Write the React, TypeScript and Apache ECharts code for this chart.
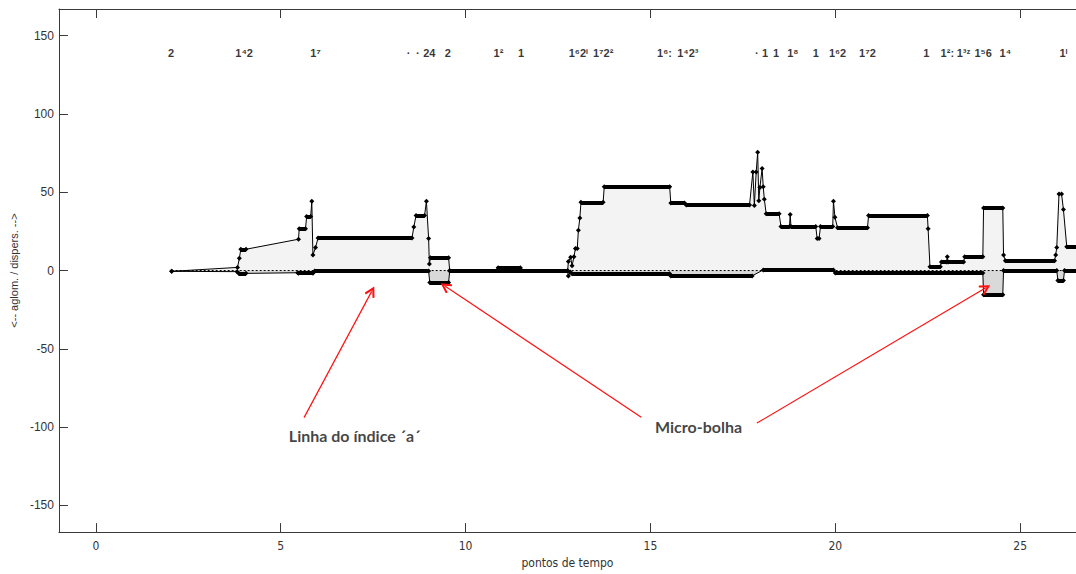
import React, { useEffect, useRef } from "react";
import * as echarts from "echarts";

// upper curve (dispersion side): [time point, value]
const upperCurve: [number, number][] = [
  [2.05, -0.5], [3.83, 2.0], [3.88, 7.8], [3.92, 13.6], [4.06, 13.6], [5.48, 20.0],
  [5.50, 26.7], [5.67, 26.7], [5.70, 34.5], [5.81, 34.5], [5.84, 44.2], [5.87, 9.9],
  [5.94, 14.7], [6.01, 20.8], [8.55, 20.8], [8.60, 27.8], [8.66, 35.2], [8.89, 35.2],
  [8.94, 44.2], [9.00, 20.4], [9.02, 4.2], [9.05, 8.2], [9.54, 8.2], [9.57, 0],
  [10.85, 0], [10.88, 1.8], [11.48, 1.8], [11.52, 0], [12.76, 0],
  [12.78, 5.7], [12.84, 8.5], [12.88, 3.0], [12.93, 8.8], [12.97, 14.0], [13.02, 14.0],
  [13.05, 25.7], [13.09, 33.6], [13.12, 43.6], [13.72, 43.6], [13.75, 53.5], [15.52, 53.5],
  [15.55, 43.1], [15.92, 43.1], [15.97, 41.9], [17.68, 41.9], [17.77, 62.9], [17.81, 41.5],
  [17.86, 63.0], [17.90, 75.6], [17.93, 44.6], [17.96, 53.0], [18.02, 65.2], [18.05, 53.5],
  [18.08, 45.6], [18.13, 36.2], [18.48, 36.2], [18.53, 28.2], [18.76, 28.2], [18.78, 35.8],
  [18.80, 28.2], [19.47, 28.2], [19.51, 20.4], [19.56, 20.4], [19.60, 28.2], [19.93, 28.2],
  [19.95, 44.2], [19.99, 34.0], [20.06, 27.3], [20.87, 27.3], [20.90, 35.2], [22.49, 35.2],
  [22.51, 26.7], [22.56, 2.5], [22.84, 2.5], [22.87, 5.5], [23.01, 5.5], [23.03, 8.8],
  [23.05, 5.5], [23.47, 5.5], [23.50, 8.8], [23.99, 8.8], [24.01, 40.0], [24.53, 40.0],
  [24.55, 9.9], [24.60, 6.3], [25.93, 6.3], [25.96, 9.9], [25.99, 14.7], [26.05, 48.8],
  [26.12, 48.8], [26.17, 39.0], [26.26, 15.2], [26.60, 15.2],
];

// lower curve (agglomeration side)
const lowerCurve: [number, number][] = [
  [2.05, -0.5], [3.82, -0.7], [3.86, -1.8], [4.06, -1.8], [5.46, -1.4], [5.48, -1.7],
  [5.87, -1.7], [5.92, -0.3], [9.00, -0.3], [9.03, -7.6], [9.54, -7.6], [9.57, -0.3],
  [12.76, -0.3], [12.78, -3.4], [12.83, -1.0], [12.88, -2.1], [15.52, -2.1], [15.55, -3.4],
  [17.75, -3.4], [18.05, 0.4], [19.95, 0.4], [20.00, -1.5], [23.99, -1.5], [24.01, -15.4],
  [24.53, -15.4], [24.55, 0], [25.99, 0], [26.02, -6.3], [26.17, -6.3], [26.20, 0],
  [26.60, 0],
];

// 'a' index line
const indexLine: [number, number][] = [[2.05, 0], [26.6, 0]];

const xTicks = [0, 5, 10, 15, 20, 25];
const yTicks = [-150, -100, -50, 0, 50, 100, 150];

// cluster labels along the top
const clusterLabelX = [
  2.03, 4.01, 5.94, 8.46, 8.71, 9.02, 9.52, 10.89, 11.5, 13.05, 13.72, 15.38, 16.01,
  17.88, 18.1, 18.4, 18.85, 19.47, 20.06, 20.87, 22.46, 23.03, 23.47, 24.0, 24.6, 26.17,
];
const clusterLabelText = [
  "2", "1⁴2", "1⁷", "·", "·", "24", "2", "1²", "1", "1⁶2ⁱ", "1⁷2²", "1⁶:", "1⁴2³",
  "·", "1", "1", "1⁸", "1", "1⁶2", "1⁷2", "1", "1²:", "1³ᶻ", "1⁵6", "1⁴", "1ᴵ",
];
const clusterLabelY = 139;

// annotations
const noteTexts = ["Linha do índice ´a´", "Micro-bolha"];
const notePos: [number, number][] = [[7.0, -105.4], [16.3, -99.7]];
const arrowFrom: [number, number][] = [[5.63, -93.9], [14.75, -93.6], [17.88, -97.4]];
const arrowTo: [number, number][] = [[7.46, -13.3], [9.45, -10.1], [24.06, -11.2]];

function plateaus(curve: [number, number][]) {
  const out: { coords: [number, number][] }[] = [];
  for (let i = 0; i < curve.length - 1; i++) {
    const a = curve[i];
    const b = curve[i + 1];
    if (a[1] === b[1] && b[0] - a[0] >= 0.08) out.push({ coords: [a, b] });
  }
  return out;
}

const axisColor = "#3a3a3a";
const sansFont = "'Liberation Sans', Arial, sans-serif";
const narrowFont = "'Liberation Sans Narrow', 'DejaVu Sans Condensed', sans-serif";
const chevron = "path://M5,0 L10,8.4 L8.5,9.4 L5,3.6 L1.5,9.4 L0,8.4 Z";

export default function App() {
  const ref = useRef<HTMLDivElement>(null);
  useEffect(() => {
    if (!ref.current) return;
    const chart = echarts.init(ref.current, undefined, { renderer: "svg" });
    const xCommon = {
      type: "value",
      min: -1,
      max: 26.51,
      splitLine: { show: false },
      axisLine: { show: true, onZero: false, lineStyle: { color: axisColor, width: 1 } },
      axisTick: { show: true, inside: true, length: 9, customValues: xTicks, lineStyle: { color: axisColor } },
    };
    chart.setOption({
      animation: false,
      backgroundColor: "#ffffff",
      grid: { left: 56, right: 0, top: 9, bottom: 36 },
      xAxis: [
        {
          ...xCommon,
          position: "bottom",
          axisLabel: {
            customValues: xTicks,
            margin: 8,
            fontFamily: narrowFont,
            fontSize: 12,
            color: "#333",
          },
          name: "pontos de tempo",
          nameLocation: "middle",
          nameGap: 24,
          nameTextStyle: { fontFamily: narrowFont, fontSize: 12, color: "#333" },
        },
        { ...xCommon, position: "top", axisLabel: { show: false } },
      ],
      yAxis: {
        type: "value",
        min: -167,
        max: 167,
        splitLine: { show: false },
        axisLine: { show: true, onZero: false, lineStyle: { color: axisColor, width: 1 } },
        axisTick: { show: true, inside: true, length: 9, customValues: yTicks, lineStyle: { color: axisColor } },
        axisLabel: {
          customValues: yTicks,
          margin: 5,
          fontFamily: sansFont,
          fontSize: 12,
          color: "#333",
        },
        name: "<-- aglom. / dispers. -->",
        nameLocation: "middle",
        nameRotate: 90,
        nameGap: 35,
        nameTextStyle: { fontFamily: sansFont, fontSize: 11, color: "#333" },
      },
      series: [
        {
          type: "line",
          data: upperCurve,
          symbol: "diamond",
          symbolSize: 5,
          showSymbol: true,
          showAllSymbol: true,
          lineStyle: { color: "#000", width: 1 },
          itemStyle: { color: "#000" },
          areaStyle: { color: "#f3f3f3", opacity: 1 },
          z: 2,
        },
        {
          type: "line",
          data: lowerCurve,
          symbol: "diamond",
          symbolSize: 5,
          showSymbol: true,
          showAllSymbol: true,
          lineStyle: { color: "#000", width: 1 },
          itemStyle: { color: "#000" },
          areaStyle: { color: "#d9d9d9", opacity: 1 },
          z: 2,
        },
        {
          type: "line",
          data: indexLine,
          symbol: "none",
          lineStyle: { color: "#000", width: 1, type: [2, 2] },
          z: 3,
        },
        {
          type: "lines",
          coordinateSystem: "cartesian2d",
          data: plateaus(upperCurve).concat(plateaus(lowerCurve)),
          lineStyle: { color: "#000", width: 4, opacity: 1 },
          z: 4,
        },
        {
          type: "scatter",
          symbolSize: 1,
          itemStyle: { color: "rgba(0,0,0,0)" },
          data: clusterLabelX.map((x, i) => ({ value: [x, clusterLabelY], name: clusterLabelText[i] })),
          label: {
            show: true,
            position: "inside",
            formatter: "{b}",
            fontFamily: sansFont,
            fontWeight: "bold",
            fontSize: 11,
            color: "#000",
          },
          z: 5,
        },
        {
          type: "lines",
          coordinateSystem: "cartesian2d",
          data: arrowFrom.map((f, i) => ({ coords: [f, arrowTo[i]] })),
          symbol: ["none", chevron],
          symbolSize: [12, 11],
          lineStyle: { color: "#ff1010", width: 1.2, opacity: 1 },
          itemStyle: { color: "#ff1010" },
          z: 6,
        },
        {
          type: "scatter",
          symbolSize: 1,
          itemStyle: { color: "rgba(0,0,0,0)" },
          data: notePos.map((p, i) => ({ value: p, name: noteTexts[i] })),
          label: {
            show: true,
            position: "inside",
            formatter: "{b}",
            fontFamily: "Lato, 'Open Sans', sans-serif",
            fontWeight: "bold",
            fontSize: 16,
            color: "#111",
          },
          z: 6,
        },
      ],
    });
    return () => chart.dispose();
  }, []);
  return (
    <div
      ref={ref}
      style={{ position: "fixed", left: 0, top: 0, width: 1076, height: 574, background: "#fff" }}
    />
  );
}
